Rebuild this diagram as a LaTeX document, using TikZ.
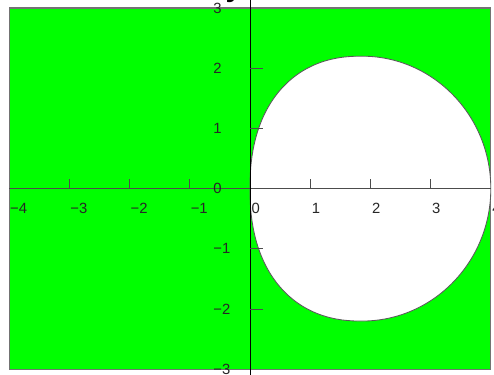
\documentclass[tikz,border=0pt]{standalone}
\usepackage{fontspec}
\setmainfont{Liberation Sans}
\definecolor{plotgreen}{RGB}{0,255,0}
\begin{document}
\begin{tikzpicture}[x=1cm,y=1cm,
  lab/.style={font=\fontsize{7}{8}\selectfont, text=black!85, inner sep=0pt},
  xlab/.style={lab, anchor=north west},
  ylab/.style={lab, anchor=west},
  tk/.style={draw=black!70, line width=0.45pt},
  ax/.style={line width=0.45pt}]
\useasboundingbox (-4.153,-3.080) rectangle (4.053,3.133);
\fill[white] (-4.153,-3.080) rectangle (4.053,3.133);
% green region
\draw[fill=plotgreen, draw=black!55, line width=0.5pt] (-4,-3) rectangle (4,3);
% white region
\draw[fill=white, draw=black!65, line width=0.4pt]
  (4,0) arc[start angle=0, end angle=90, x radius=2.14, y radius=2.2]
  -- plot[domain=90:0, samples=61, variable=\s]
     ({1.86-1.86*pow(cos(\s)+0.00001,0.88)}, {2.2*pow(sin(\s)+0.00001,0.88)})
  -- plot[domain=0:90, samples=61, variable=\s]
     ({1.86-1.86*pow(cos(\s)+0.00001,0.88)}, {-2.2*pow(sin(\s)+0.00001,0.88)})
  arc[start angle=270, end angle=360, x radius=2.14, y radius=2.2] -- cycle;
% axes
\draw[ax, draw=black!70] (-4,0) -- (4,0);
\draw[ax, draw=black] (0,-3.2) -- (0,3.2);
% ticks
\foreach \i in {-3,-2,-1,1,2,3} \draw[tk] (\i,0) -- (\i,0.155);
\foreach \j in {-2,-1,1,2} \draw[tk] (0,\j) -- (0.21,\j);
% x labels
\node[xlab] (xm4) at (-3.99,-0.24) {−4};
\node[xlab] (xm3) at (-2.99,-0.24) {−3};
\node[xlab] (xm2) at (-1.99,-0.24) {−2};
\node[xlab] (xm1) at (-0.99,-0.24) {−1};
\node[xlab] (x0) at (0.02,-0.24) {0};
\node[xlab] (x1) at (1.02,-0.24) {1};
\node[xlab] (x2) at (2.02,-0.24) {2};
\node[xlab] (x3) at (3.02,-0.24) {3};
\node[xlab] (x4) at (4.02,-0.24) {4};
% y labels
\node[ylab] (y3) at (-0.615,3) {3};
\node[ylab] (y2) at (-0.615,2) {2};
\node[ylab] (y1) at (-0.615,1) {1};
\node[ylab] (y0) at (-0.615,0) {0};
\node[ylab] (ym1) at (-0.615,-1) {−1};
\node[ylab] (ym2) at (-0.615,-2) {−2};
\node[ylab] (ym3) at (-0.615,-3) {−3};
% axis title (cut off at the top)
\node[font=\bfseries\fontsize{14}{16}\selectfont, anchor=base, inner sep=0pt] (ytitle) at (-0.27,3.19) {y};
\end{tikzpicture}
\end{document}
